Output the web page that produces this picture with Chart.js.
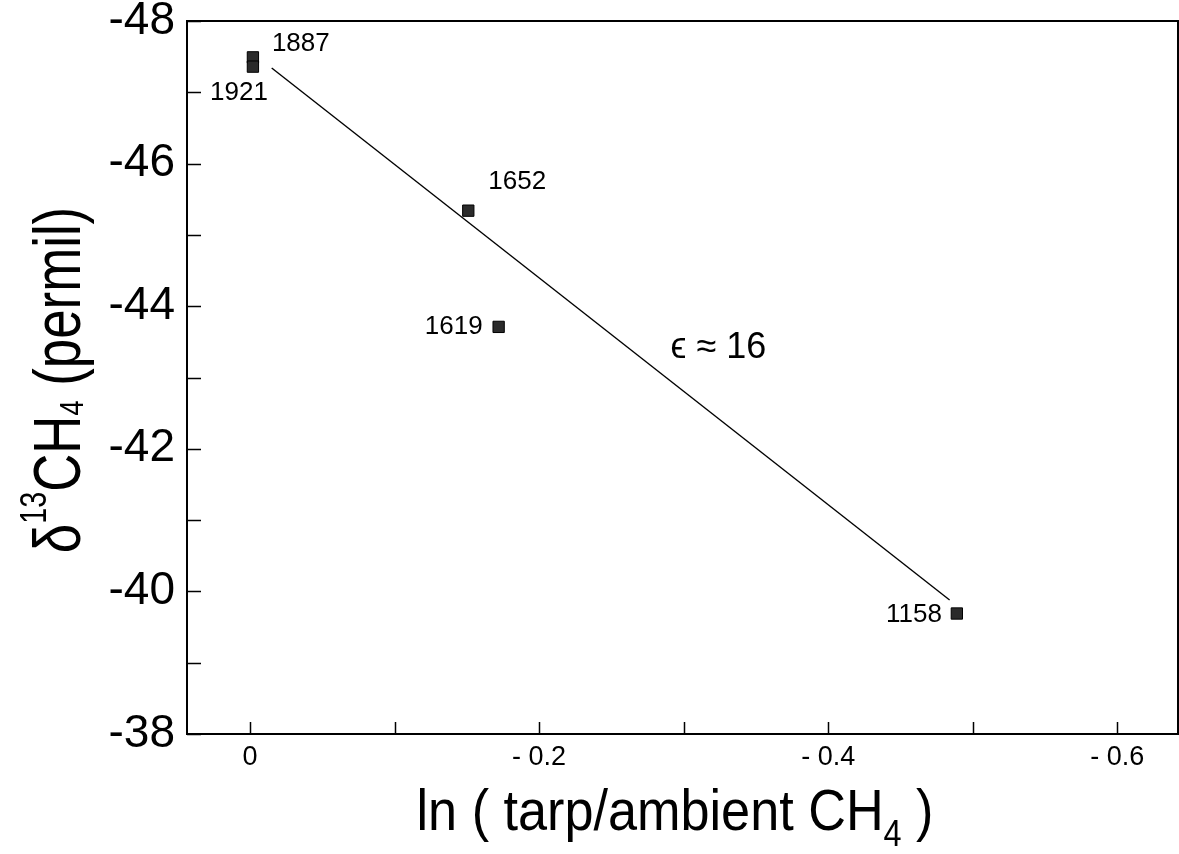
<!DOCTYPE html>
<html>
<head>
<meta charset="utf-8">
<script src="https://cdn.jsdelivr.net/npm/chart.js@4"></script>
<style>
  html, body { margin: 0; padding: 0; background: #fff; overflow: hidden; }
  #wrap { width: 1179px; height: 854px; position: relative; }
  canvas { display: block; }
</style>
</head>
<body>
<div id="wrap"><canvas id="chart"></canvas></div>
<script>
// tarp samples
const samples = ["1887", "1921", "1652", "1619", "1158"];
const lnRatio = [-0.002, -0.002, -0.151, -0.172, -0.489];
const d13C = [-47.49, -47.36, -45.34, -43.71, -39.69];

// fitted line, slope ~ 16 permil
const fitX = [-0.015, -0.484];
const fitY = [-47.34, -39.88];
const fitLabel = "\u03F5 \u2248 16";
const fitLabelAt = [-0.324, -43.41];

const xTicks = [0, -0.1, -0.2, -0.3, -0.4, -0.5, -0.6];
const xTickLabels = ["0", "", "- 0.2", "", "- 0.4", "", "- 0.6"];
const yTicks = [-48, -47, -46, -45, -44, -43, -42, -41, -40, -39, -38];
const yTickLabels = ["-48", "", "-46", "", "-44", "", "-42", "", "-40", "", "-38"];

// label offsets in px from each marker: [dx, dy, align]
const labelOffsets = [[19, -14, "left"], [15, 26, "right"], [20, -29, "left"], [-16, 0, "right"], [-15, 1, "right"]];

const FONT = "'Liberation Sans', Arial, Helvetica, sans-serif";

// draws a run of [text, size, shift] parts squeezed horizontally
function drawParts(ctx, parts, cx, baseY, squeeze) {
  let w = 0;
  parts.forEach(p => { ctx.font = p[1] + "px " + FONT; w += ctx.measureText(p[0]).width; });
  ctx.save();
  ctx.translate(cx, baseY);
  ctx.scale(squeeze, 1);
  let x = -w / 2;
  parts.forEach(p => {
    ctx.font = p[1] + "px " + FONT;
    ctx.fillText(p[0], x, p[2]);
    x += ctx.measureText(p[0]).width;
  });
  ctx.restore();
}

const decorations = {
  id: "decorations",
  afterDatasetsDraw(chart) {
    const ctx = chart.ctx;
    const xs = chart.scales.x, ys = chart.scales.y;
    const a = chart.chartArea;
    ctx.save();
    ctx.strokeStyle = "#000";
    ctx.fillStyle = "#000";

    // frame
    ctx.lineWidth = 2;
    ctx.strokeRect(a.left, a.top, a.right - a.left, a.bottom - a.top);

    // inward ticks
    ctx.lineWidth = 1.5;
    ctx.beginPath();
    yTicks.forEach(v => {
      const y = Math.round(ys.getPixelForValue(v)) + 0.5;
      ctx.moveTo(a.left, y);
      ctx.lineTo(a.left + 14, y);
    });
    xTicks.forEach(v => {
      const x = Math.round(xs.getPixelForValue(v)) + 0.5;
      ctx.moveTo(x, a.bottom);
      ctx.lineTo(x, a.bottom - 12);
    });
    ctx.stroke();

    // sample labels
    ctx.font = "26px " + FONT;
    ctx.textBaseline = "middle";
    samples.forEach((s, i) => {
      const px = xs.getPixelForValue(lnRatio[i]);
      const py = ys.getPixelForValue(d13C[i]);
      const o = labelOffsets[i];
      ctx.textAlign = o[2];
      ctx.fillText(s, px + o[0], py + o[1]);
    });

    // fit annotation
    ctx.font = "36px " + FONT;
    ctx.textAlign = "center";
    ctx.fillText(fitLabel, xs.getPixelForValue(fitLabelAt[0]), ys.getPixelForValue(fitLabelAt[1]));

    // axis titles with sub/superscripts
    ctx.textBaseline = "alphabetic";
    ctx.textAlign = "left";
    drawParts(ctx, [["ln ( tarp/ambient CH", 58, 0], ["4", 36, 16], [" )", 58, 0]], 675, 830, 0.9);

    ctx.save();
    ctx.translate(80, 380);
    ctx.rotate(-Math.PI / 2);
    drawParts(ctx, [["\u03B4", 66, 0], ["13", 36, -34], ["CH", 66, 0], ["4", 34, 3], [" (permil)", 66, 0]], 0, 0, 0.8);
    ctx.restore();

    ctx.restore();
  }
};

new Chart(document.getElementById("chart"), {
  type: "scatter",
  data: {
    datasets: [
      {
        type: "line",
        data: fitX.map((v, i) => ({ x: v, y: fitY[i] })),
        borderColor: "#000",
        borderWidth: 1.4,
        pointRadius: 0,
        fill: false
      },
      {
        data: lnRatio.map((v, i) => ({ x: v, y: d13C[i] })),
        pointStyle: "rect",
        pointRadius: 8,
        backgroundColor: "#2b2b2b",
        borderColor: "#000",
        borderWidth: 1
      }
    ]
  },
  options: {
    responsive: true,
    maintainAspectRatio: false,
    animation: false,
    layout: { autoPadding: false, padding: { top: 21, right: 1, left: 0, bottom: 0 } },
    plugins: { legend: { display: false }, tooltip: { enabled: false } },
    scales: {
      x: {
        type: "linear",
        min: -0.642,
        max: 0.0436,
        reverse: true,
        grid: { display: false, drawTicks: false },
        border: { display: false },
        afterBuildTicks: s => { s.ticks = xTicks.map(v => ({ value: v })); },
        afterFit: s => { s.height = 120; s.paddingLeft = 0; s.paddingRight = 0; },
        ticks: {
          autoSkip: false,
          maxRotation: 0,
          padding: 10,
          color: "#000",
          font: { family: FONT, size: 27, lineHeight: 1 },
          callback: (v, i) => xTickLabels[i]
        }
      },
      y: {
        type: "linear",
        min: -48,
        max: -38,
        reverse: true,
        grid: { display: false, drawTicks: false },
        border: { display: false },
        afterBuildTicks: s => { s.ticks = yTicks.map(v => ({ value: v })); },
        afterFit: s => { s.width = 187; s.paddingTop = 0; s.paddingBottom = 0; },
        ticks: {
          autoSkip: false,
          padding: 12,
          color: "#000",
          font: { family: FONT, size: 46, lineHeight: 0.5 },
          callback: (v, i) => yTickLabels[i]
        }
      }
    }
  },
  plugins: [decorations]
});
</script>
</body>
</html>
